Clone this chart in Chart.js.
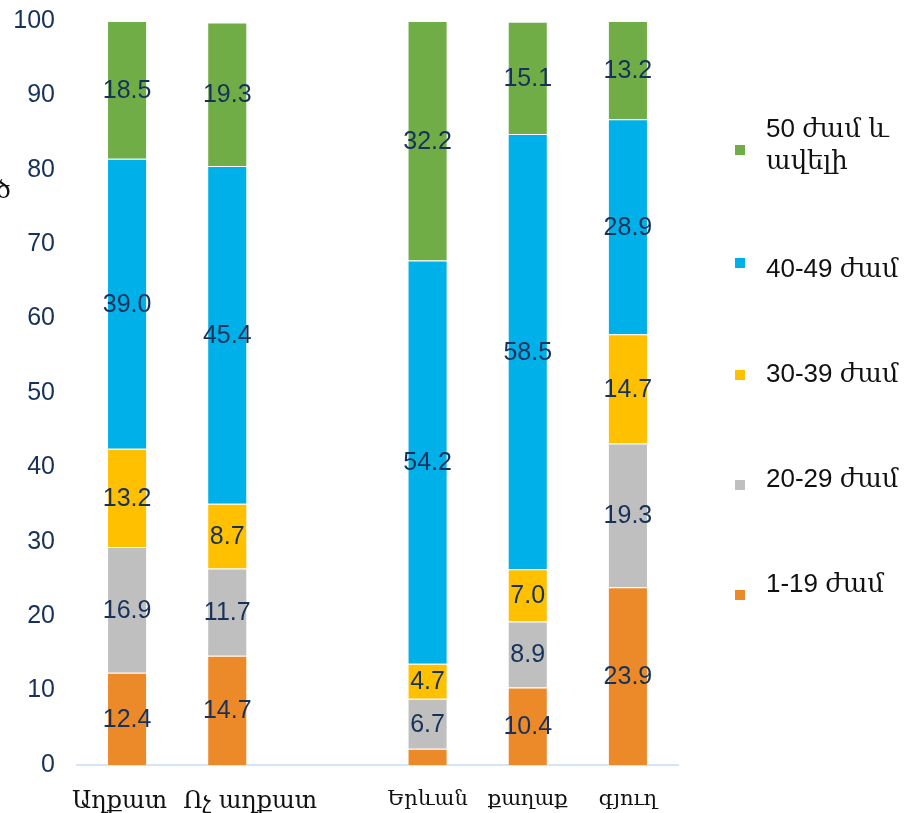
<!DOCTYPE html>
<html>
<head>
<meta charset="utf-8">
<script src="https://cdn.jsdelivr.net/npm/chart.js@4.4.1/dist/chart.umd.min.js"></script>
<style>
  html, body { margin: 0; padding: 0; background: #fff; }
  #wrap { position: relative; width: 920px; height: 813px; }
  #legend { position: absolute; left: 735px; top: 73px; font-family: "Liberation Sans", Arial, "DejaVu Serif", serif; font-size: 26px; color: #111; }
  .item { display: flex; align-items: center; height: 105px; }
  .item:first-child { height: 142px; }
  .box { width: 10px; height: 10px; margin-right: 21px; flex: none; }
  .item:nth-child(1) .box { transform: translateY(6px); }
  .item:nth-child(2) .box { transform: translateY(-5px); }
  .item:nth-child(3) .box { transform: translateY(2px); }
  .item:nth-child(4) .box { transform: translateY(7px); }
  .item:nth-child(5) .box { transform: translateY(12px); }
  .txt { line-height: 32px; }
  #ytitle { position: absolute; left: -4px; top: 176px; font-family: "DejaVu Serif", serif; font-size: 24px; color: #111; }
</style>
</head>
<body>
<div id="wrap">
  <canvas id="chart" width="920" height="813"></canvas>
  <div id="legend"></div>
  <span id="ytitle">ծ</span>
</div>
<script>
// Աշխատողների բաշխումը ըստ շաբաթական աշխատաժամերի (%)
const categories = ["Աղքատ  ", "      Ոչ աղքատ", "", "Երևան", "քաղաք", "գյուղ"];
const h1_19  = [12.4, 14.7, null, 2.2, 10.4, 23.9];
const h20_29 = [16.9, 11.7, null, 6.7, 8.9, 19.3];
const h30_39 = [13.2, 8.7, null, 4.7, 7.0, 14.7];
const h40_49 = [39.0, 45.4, null, 54.2, 58.5, 28.9];
const h50up  = [18.5, 19.3, null, 32.2, 15.1, 13.2];
const yTicks = [0, 10, 20, 30, 40, 50, 60, 70, 80, 90, 100];

const series = [
  { label: "1-19 ժամ", data: h1_19, color: "#ec8a2a" },
  { label: "20-29 ժամ", data: h20_29, color: "#bfbfbf" },
  { label: "30-39 ժամ", data: h30_39, color: "#ffc000" },
  { label: "40-49 ժամ", data: h40_49, color: "#00b0e8" },
  { label: "50 ժամ և ավելի", data: h50up, color: "#70ad47", legendText: "50 ժամ և<br>ավելի" },
];

// թվերը սեգմենտների մեջտեղում
const valueLabels = {
  id: "valueLabels",
  afterDatasetsDraw(chart) {
    const ctx = chart.ctx;
    ctx.save();
    ctx.font = '25px "Liberation Sans", Arial, sans-serif';
    ctx.fillStyle = "#17325a";
    ctx.textAlign = "center";
    ctx.textBaseline = "middle";
    chart.data.datasets.forEach((ds, i) => {
      chart.getDatasetMeta(i).data.forEach((bar, j) => {
        const v = ds.data[j];
        if (v == null || v < 3) return;
        ctx.fillText(v.toFixed(1), bar.x, (bar.y + bar.base) / 2 + 1);
      });
    });
    ctx.restore();
  }
};

new Chart(document.getElementById("chart"), {
  type: "bar",
  data: {
    labels: categories,
    datasets: series.map(s => ({
      label: s.label,
      data: s.data,
      backgroundColor: s.color,
      borderColor: "rgba(255,255,255,0.45)",
      borderWidth: 1,
      barPercentage: 0.5,
      categoryPercentage: 0.8,
    })),
  },
  options: {
    responsive: false,
    animation: false,
    layout: { autoPadding: false, padding: { left: 12, right: 242, top: 21, bottom: 0 } },
    plugins: { legend: { display: false }, tooltip: { enabled: false } },
    scales: {
      x: {
        stacked: true,
        grid: { display: false, drawTicks: false },
        border: { color: "#d3e5f7", width: 2 },
        afterFit: a => { a.height = 48; a.paddingLeft = 0; a.paddingRight = 0; },
        ticks: {
          autoSkip: false,
          maxRotation: 0,
          color: "#111",
          padding: 22,
          font: c => ({ family: '"DejaVu Serif", "Liberation Serif", serif', size: c.index < 2 ? 24 : 21 }),
        },
      },
      y: {
        stacked: true,
        min: 0,
        max: 100,
        afterBuildTicks: axis => { axis.ticks = yTicks.map(v => ({ value: v })); },
        afterFit: a => { a.width = 65; a.paddingTop = 0; a.paddingBottom = 0; },
        grid: { display: false, drawTicks: false },
        border: { display: false },
        ticks: {
          color: "#17325a",
          padding: 22,
          font: { family: '"Liberation Sans", Arial, sans-serif', size: 25 },
        },
      },
    },
  },
  plugins: [valueLabels],
});

// լեգենդը՝ վերևից ներքև հակառակ կարգով
document.getElementById("legend").innerHTML = series.slice().reverse().map(s => `
  <div class="item"><span class="box" style="background:${s.color}"></span><span class="txt">${s.legendText || s.label}</span></div>
`).join("");
</script>
</body>
</html>
